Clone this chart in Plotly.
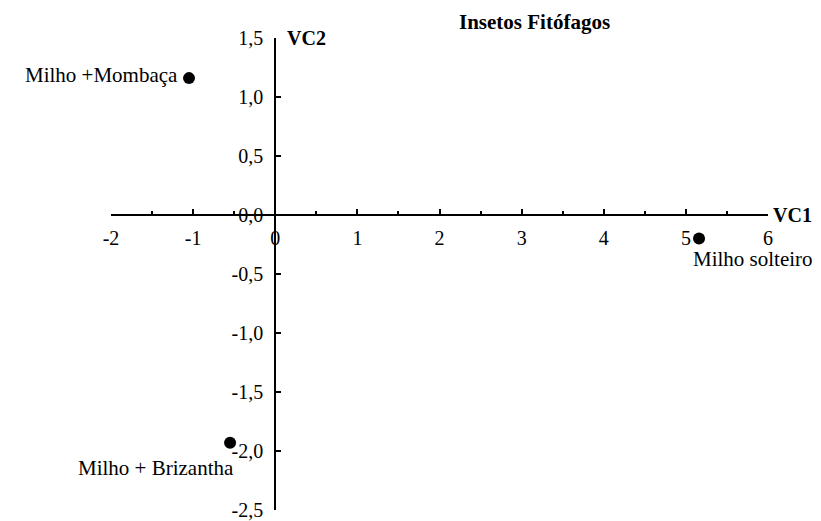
import plotly.graph_objects as go

treatments = ["Milho +Mombaça", "Milho solteiro", "Milho + Brizantha"]
vc1 = [-1.05, 5.16, -0.55]
vc2 = [1.16, -0.20, -1.93]

x_ticks = [-2, -1, 0, 1, 2, 3, 4, 5, 6]
y_ticks = [1.5, 1.0, 0.5, 0.0, -0.5, -1.0, -1.5, -2.0, -2.5]
y_tick_text = ["1,5", "1,0", "0,5", "0,0", "-0,5", "-1,0", "-1,5", "-2,0", "-2,5"]

title = "Insetos Fitófagos"
x_name = "VC1"
y_name = "VC2"

# label placement (style only)
label_style = [
    dict(xanchor="right", yanchor="middle", xshift=-9, yshift=3),
    dict(xanchor="left", yanchor="middle", xshift=-8, yshift=-20),
    dict(xanchor="right", yanchor="middle", xshift=6, yshift=-25),
]

FONT = "Liberation Serif, Times New Roman, serif"
FS = 20
LFS = 21

# page body has an 8px margin; size the figure to fit the window
W, H = 813, 513
L, R, T, B = 103, 53, 30, 11
plot_w, plot_h = W - L - R, H - T - B

fig = go.Figure()
fig.add_trace(go.Scatter(
    x=vc1, y=vc2, mode="markers",
    marker=dict(color="black", size=12),
    cliponaxis=False, showlegend=False,
))

xmin, xmax = x_ticks[0], x_ticks[-1]
ymin, ymax = min(y_ticks), max(y_ticks)

annotations = []
for name, x, y, st in zip(treatments, vc1, vc2, label_style):
    annotations.append(dict(x=x, y=y, xref="x", yref="y", text=name, showarrow=False,
                            font=dict(family=FONT, size=LFS, color="black"), **st))
annotations.append(dict(x=0, y=ymax, xref="x", yref="y", text=f"<b>{y_name}</b>", showarrow=False,
                        xanchor="left", yanchor="middle", xshift=10,
                        font=dict(family=FONT, size=FS, color="black")))
annotations.append(dict(x=xmax, y=0, xref="x", yref="y", text=f"<b>{x_name}</b>", showarrow=False,
                        xanchor="left", yanchor="middle", xshift=3,
                        font=dict(family=FONT, size=FS, color="black")))
annotations.append(dict(x=(526 - L) / plot_w, y=(H - B - 14) / plot_h, xref="paper", yref="paper",
                        text=f"<b>{title}</b>",
                        showarrow=False, xanchor="center", yanchor="middle",
                        font=dict(family=FONT, size=21, color="black")))

fig.update_layout(
    width=W, height=H,
    margin=dict(l=L, r=R, t=T, b=B, autoexpand=False),
    plot_bgcolor="white", paper_bgcolor="white",
    annotations=annotations,
    font=dict(family=FONT, size=FS, color="black"),
    xaxis=dict(
        range=[xmin, xmax], anchor="free", position=(0 - ymin) / (ymax - ymin),
        automargin=False,
        showline=True, linecolor="black", linewidth=2,
        showgrid=False, zeroline=False,
        tickmode="array", tickvals=x_ticks, ticktext=[str(t) for t in x_ticks],
        ticks="inside", ticklen=5, tickwidth=1.5, tickcolor="black",
        ticklabelstandoff=5,
        minor=dict(dtick=0.5, tick0=0, ticks="inside", ticklen=3, tickwidth=1.5, tickcolor="black"),
        tickfont=dict(family=FONT, size=FS, color="black"),
    ),
    yaxis=dict(
        range=[ymin, ymax], anchor="free", position=(0 - xmin) / (xmax - xmin),
        automargin=False,
        showline=True, linecolor="black", linewidth=2,
        showgrid=False, zeroline=False,
        tickmode="array", tickvals=y_ticks, ticktext=y_tick_text,
        ticks="inside", ticklen=5, tickwidth=1.5, tickcolor="black",
        ticklabelstandoff=7,
        tickfont=dict(family=FONT, size=FS, color="black"),
    ),
)

fig.write_html("out.html")
